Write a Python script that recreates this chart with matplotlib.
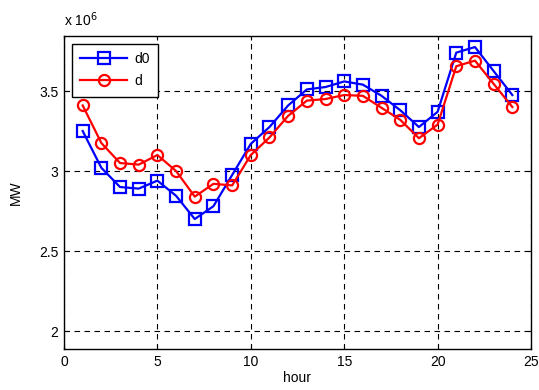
import matplotlib
matplotlib.use("Agg")
import matplotlib.pyplot as plt
import numpy as np

# hourly load, in units of 1e6 MW
hours = list(range(1, 25))
d0 = [3.25, 3.02, 2.90, 2.89, 2.94, 2.845, 2.70, 2.78, 2.975, 3.17, 3.275, 3.41,
      3.51, 3.525, 3.56, 3.54, 3.47, 3.38, 3.275, 3.37, 3.74, 3.775, 3.625, 3.475]
d = [3.41, 3.175, 3.05, 3.04, 3.10, 3.00, 2.84, 2.92, 2.91, 3.10, 3.21, 3.345,
     3.44, 3.45, 3.475, 3.47, 3.395, 3.32, 3.205, 3.29, 3.655, 3.69, 3.545, 3.40]
xticks = [0, 5, 10, 15, 20, 25]
yticks = [2, 2.5, 3, 3.5]

plt.rcParams["font.family"] = ["Liberation Sans", "DejaVu Sans"]
plt.rcParams["font.size"] = 10

fig = plt.figure(figsize=(5.39, 3.90), dpi=100)
ax = fig.add_axes([64 / 539, 1 - 349 / 390, (531 - 64) / 539, (349 - 36) / 390])

ax.plot(hours, d0, color="blue", marker="s", markersize=8, markerfacecolor="none",
        markeredgewidth=1.6, linewidth=1.6, label="d0")
ax.plot(hours, d, color="red", marker="o", markersize=8, markerfacecolor="none",
        markeredgewidth=1.6, linewidth=1.6, label="d")

ax.set_xlim(0, 25)
ax.set_ylim(1.8875, 3.844)
ax.set_xticks(xticks)
ax.set_yticks(yticks)
ax.set_yticklabels(["2", "2.5", "3", "3.5"])
ax.grid(True, color="black", linestyle=(0, (5, 4)), linewidth=0.8)
ax.tick_params(direction="in", top=True, right=True, length=3, width=0.8,
               colors="black", pad=4)
for s in ax.spines.values():
    s.set_linewidth(1.0)

ax.set_xlabel("hour", labelpad=2)
ax.set_ylabel("MW", labelpad=12)
fig.text(64 / 539, 1 - 20 / 390, r"x 10$^{6}$", fontsize=10, va="center", ha="left")

leg = ax.legend(loc="upper left", fancybox=False, framealpha=1, edgecolor="black",
                handlelength=3.4, handletextpad=0.5, labelspacing=0.6,
                borderpad=0.6, borderaxespad=0.55)
leg.get_frame().set_linewidth(1.0)

fig.savefig("out.png", dpi=100)
